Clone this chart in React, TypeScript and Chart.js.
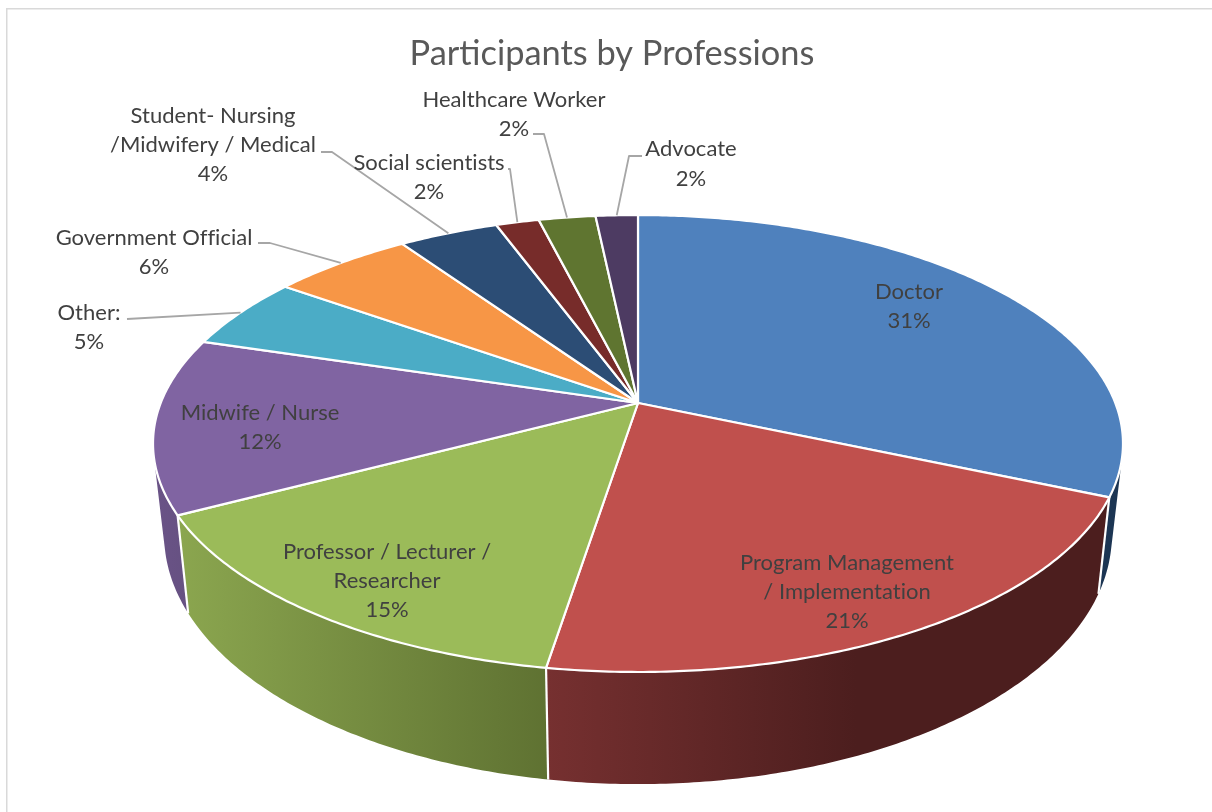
import React, { useEffect, useRef } from "react";
import { Chart, registerables } from "chart.js";

Chart.register(...registerables);

const categories = [
  ["Doctor"],
  ["Program Management", "/ Implementation"],
  ["Professor / Lecturer /", "Researcher"],
  ["Midwife / Nurse"],
  ["Other:"],
  ["Government Official"],
  ["Student- Nursing", "/Midwifery / Medical"],
  ["Social scientists"],
  ["Healthcare Worker"],
  ["Advocate"],
];
const shares = [31.49, 21.05, 14.75, 12.4, 5.14, 5.59, 3.95, 1.71, 2.25, 1.67];
const faceColors = ["#4f81bd", "#c0504d", "#9bbb59", "#8064a2", "#4bacc6", "#f79646", "#2c4d75", "#772c2a", "#5f7530", "#4d3b62"];
const wallStops = [
  ["#1c3553", "#1c3553"],
  ["#763030", "#4c1e1e"],
  ["#8ba64f", "#5f7232"],
  ["#6a5387", "#64507f"],
  ["#3a8296", "#3a8296"],
  ["#b9702f", "#b9702f"],
  ["#213a58", "#213a58"],
  ["#5a2120", "#5a2120"],
  ["#475824", "#475824"],
  ["#3a2c4a", "#3a2c4a"],
];
// label anchor: centre x, centre y of first line
const labelAnchors = [
  [909, 291.7], [847, 562.7], [387, 551.7], [260, 412.7], [89, 312.7],
  [154, 237.7], [213, 115.7], [429, 162.7], [514, 99.7], [691, 149.3],
];
// leader elbows (start, bend); the far end comes from the slice's own rim
const leaderElbows: (number[][] | null)[] = [
  null, null, null, null,
  [[127, 319]],
  [[258, 243], [270, 243]],
  [[321, 152], [332, 152]],
  [[508, 169], [510, 169]],
  [[533, 134], [544, 134]],
  [[642, 156], [629, 156]],
];

const CX = 638, CY = 403, A = 477.3, B = 221.3, K = 0.1773;
const FONT = "Lato, 'Open Sans', sans-serif";

const topPoint = (a: number) => {
  const X = Math.cos(a), Y = Math.sin(a), w = 1 - K * Y;
  return [CX + (A * X) / w, CY + (B * Y) / w];
};
const bottomPoint = (a: number) => {
  const X = Math.cos(a), Y = Math.sin(a), w = 1 - K * Y;
  return [CX + (0.977 * A * X) / w, CY + (B * Y + 87) / (w - 0.0137)];
};
const sampleAngles = (s: number, e: number) => {
  const n = Math.max(2, Math.ceil((e - s) / 0.01));
  const out: number[] = [];
  for (let i = 0; i <= n; i++) out.push(s + ((e - s) * i) / n);
  return out;
};

const pie3d = {
  id: "pie3d",
  beforeDraw(chart: any) {
    const ctx = chart.ctx;
    ctx.save();
    ctx.fillStyle = "#d9d9d9";
    ctx.fillRect(6, 8, 1206, 1.5);
    ctx.fillRect(6, 8, 1.5, 804);
    ctx.restore();
  },
  beforeDatasetsDraw(chart: any) {
    const ctx = chart.ctx;
    const arcs = chart.getDatasetMeta(0).data;
    ctx.save();
    // side walls (only the part that faces the viewer)
    arcs.forEach((arc: any, i: number) => {
      const s = Math.max(arc.startAngle, -0.3);
      const e = arc.endAngle;
      const wrap = arc.startAngle > Math.PI + 0.3 || e <= -0.3;
      if (wrap || e <= s) return;
      const lim = Math.min(e, Math.PI + 0.3);
      const angles = sampleAngles(s, lim);
      ctx.beginPath();
      for (let j = 0; j < angles.length - 1; j++) {
        const q = [topPoint(angles[j]), topPoint(angles[j + 1]), bottomPoint(angles[j + 1]), bottomPoint(angles[j])];
        let area = 0;
        q.forEach((p, m) => {
          const n = q[(m + 1) % 4];
          area += p[0] * n[1] - n[0] * p[1];
        });
        if (area < 0) q.reverse();
        q.forEach((p, m) => (m ? ctx.lineTo(p[0], p[1]) : ctx.moveTo(p[0], p[1])));
        ctx.closePath();
      }
      const xs = angles.map((a) => topPoint(a)[0]);
      const maxX = Math.max(...xs), minX = Math.min(...xs);
      const g = ctx.createLinearGradient(minX, 0, maxX, 0);
      if (i === 1) {
        g.addColorStop(0, wallStops[i][0]);
        g.addColorStop(0.55, wallStops[i][1]);
        g.addColorStop(1, wallStops[i][1]);
      } else {
        g.addColorStop(0, wallStops[i][0]);
        g.addColorStop(1, wallStops[i][1]);
      }
      ctx.fillStyle = g;
      ctx.fill("nonzero");
    });
    // white seams between walls
    ctx.strokeStyle = "#fff";
    ctx.lineWidth = 2.2;
    arcs.forEach((arc: any) => {
      const a = arc.endAngle;
      if (a <= 0 || a >= Math.PI) return;
      const p = topPoint(a), q = bottomPoint(a);
      ctx.beginPath();
      ctx.moveTo(p[0], p[1]);
      ctx.lineTo(q[0], q[1]);
      ctx.stroke();
    });
    // top faces
    ctx.lineJoin = "round";
    arcs.forEach((arc: any, i: number) => {
      ctx.beginPath();
      ctx.moveTo(CX, CY);
      sampleAngles(arc.startAngle, arc.endAngle).forEach((a) => {
        const p = topPoint(a);
        ctx.lineTo(p[0], p[1]);
      });
      ctx.closePath();
      ctx.fillStyle = faceColors[i];
      ctx.fill();
      ctx.stroke();
    });
    // leader lines
    ctx.strokeStyle = "#a6a6a6";
    ctx.lineWidth = 1.8;
    arcs.forEach((arc: any, i: number) => {
      const el = leaderElbows[i];
      if (!el) return;
      const end = topPoint((arc.startAngle + arc.endAngle) / 2);
      ctx.beginPath();
      el.forEach((p, j) => (j ? ctx.lineTo(p[0], p[1]) : ctx.moveTo(p[0], p[1])));
      ctx.lineTo(end[0], end[1]);
      ctx.stroke();
    });
    // labels
    const total = shares.reduce((t, v) => t + v, 0);
    ctx.fillStyle = "#404040";
    ctx.font = `22px ${FONT}`;
    ctx.letterSpacing = "0.01px";
    ctx.textAlign = "center";
    ctx.textBaseline = "middle";
    categories.forEach((lines, i) => {
      const text = [...lines, `${Math.round((shares[i] / total) * 100)}%`];
      text.forEach((t, j) => ctx.fillText(t, labelAnchors[i][0], labelAnchors[i][1] + j * 29.3));
    });
    ctx.restore();
    return false;
  },
};

export default function App() {
  const ref = useRef<HTMLCanvasElement>(null);
  useEffect(() => {
    const chart = new Chart(ref.current!, {
      type: "pie",
      data: {
        labels: categories.map((c) => c.join(" ")),
        datasets: [{ data: shares, backgroundColor: faceColors, borderColor: "#fff" }],
      },
      options: {
        responsive: false,
        animation: false,
        rotation: 0,
        layout: { padding: { left: 12 } },
        plugins: {
          legend: { display: false },
          tooltip: { enabled: false },
          title: {
            display: true,
            text: "Participants by Professions",
            fullSize: false,
            color: "#595959",
            font: { family: FONT, size: 34.4, weight: "normal" },
            padding: { top: 33, bottom: 10 },
          },
        },
      },
      plugins: [pie3d],
    } as any);
    return () => chart.destroy();
  }, []);
  return (
    <canvas
      ref={ref}
      width={1212}
      height={812}
      style={{ position: "fixed", left: 0, top: 0, width: 1212, height: 812 }}
    />
  );
}
